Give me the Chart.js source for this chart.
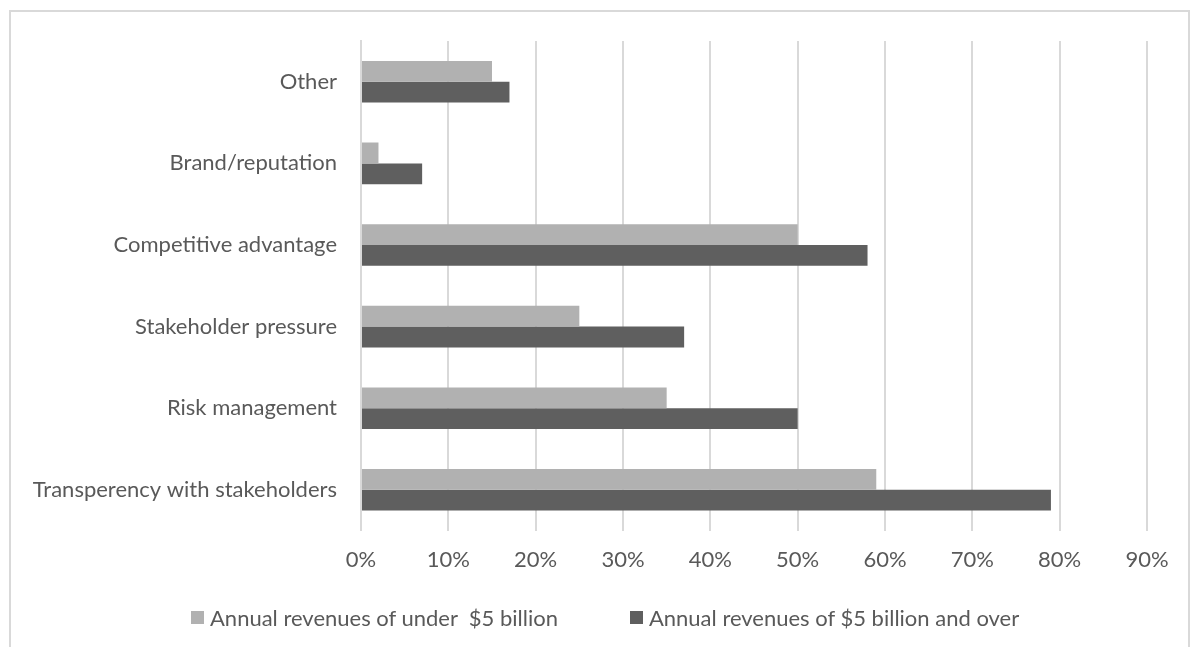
<!DOCTYPE html>
<html>
<head>
<meta charset="utf-8">
<script src="https://cdn.jsdelivr.net/npm/chart.js@4"></script>
<style>
  html, body { margin: 0; padding: 0; background: #fff; }
  #frame { position: absolute; left: 9px; top: 10px; width: 1181px; height: 660px; border: 2px solid #d9d9d9; box-sizing: border-box; }
  #wrap { position: absolute; left: 0; top: 0; width: 1197px; height: 647px; }
  #legend { position: absolute; left: 191px; top: 604px; height: 26px; display: flex; align-items: center;
            font-family: Lato, "Open Sans", sans-serif; font-size: 22px; color: #595959; white-space: pre; }
  #legend .item { display: flex; align-items: center; margin-right: 72px; }
  #legend .box { width: 13px; height: 13px; margin-right: 6px; }
</style>
</head>
<body>
<div id="frame"></div>
<div id="wrap"><canvas id="barGraph" width="1197" height="647"></canvas></div>
<div id="legend"></div>
<script>
// categories, top to bottom as in the picture
const categories = [
    "Other",
    "Brand/reputation",
    "Competitive advantage",
    "Stakeholder pressure",
    "Risk management",
    "Transperency with stakeholders"
];
const seriesNames = [
    "Annual revenues of under  $5 billion",
    "Annual revenues of $5 billion and over"
];
// percent values
const underFive = [15, 2, 50, 25, 35, 59];
const fiveAndOver = [17, 7, 58, 37, 50, 79];
const tickValues = [0, 10, 20, 30, 40, 50, 60, 70, 80, 90];

const textColor = '#595959';
const fontFamily = 'Lato, "Open Sans", sans-serif';

const ctx = document.getElementById('barGraph').getContext('2d');

const chart = new Chart(ctx, {
    type: 'bar',
    data: {
        labels: categories,
        datasets: [{
            label: seriesNames[0],
            backgroundColor: '#b1b1b1',
            borderWidth: 0,
            data: underFive
        }, {
            label: seriesNames[1],
            backgroundColor: '#5f5f5f',
            borderWidth: 0,
            data: fiveAndOver
        }]
    },
    options: {
        responsive: false,
        animation: false,
        indexAxis: 'y',
        categoryPercentage: 0.51,
        barPercentage: 1.0,
        layout: {
            padding: { top: 41, right: 50, left: 0, bottom: 58 }
        },
        scales: {
            x: {
                min: 0,
                max: 90,
                afterBuildTicks: scale => {
                    scale.ticks = tickValues.map(v => ({ value: v }));
                },
                grid: { color: '#d9d9d9', lineWidth: 2, drawTicks: false },
                border: { display: false },
                ticks: {
                    color: textColor,
                    padding: 16,
                    font: { family: fontFamily, size: 22 },
                    callback: v => v + '%'
                }
            },
            y: {
                grid: { display: false, drawTicks: false },
                border: { display: true, color: '#d9d9d9', width: 2 },
                afterFit: scale => { scale.width = 361; },
                ticks: {
                    color: textColor,
                    padding: 24,
                    font: { family: fontFamily, size: 22 }
                }
            }
        },
        plugins: {
            tooltip: { enabled: false },
            legend: { display: false }
        }
    }
});

// legend below the chart, built from the datasets
const legend = document.getElementById('legend');
chart.data.datasets.forEach(ds => {
    const item = document.createElement('div');
    item.className = 'item';
    const box = document.createElement('span');
    box.className = 'box';
    box.style.background = ds.backgroundColor;
    const label = document.createElement('span');
    label.textContent = ds.label;
    item.appendChild(box);
    item.appendChild(label);
    legend.appendChild(item);
});
</script>
</body>
</html>
